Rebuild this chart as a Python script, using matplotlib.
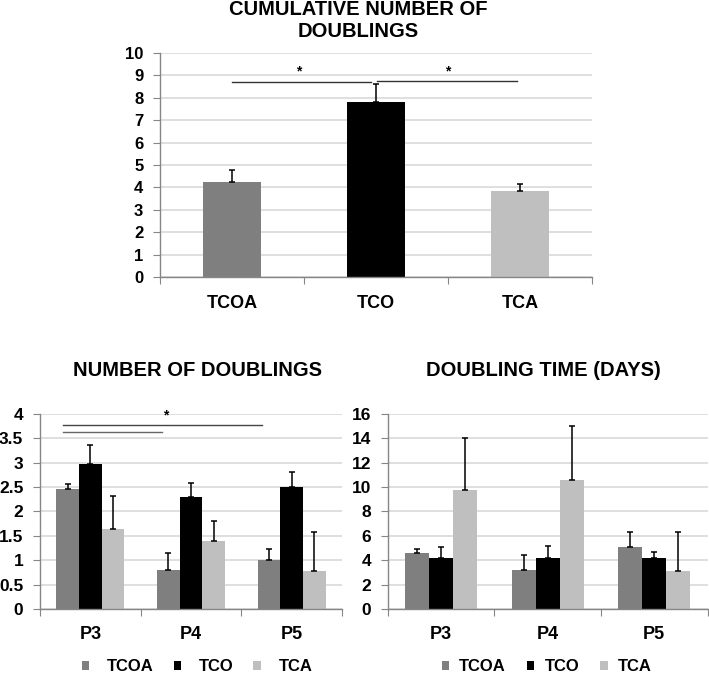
import numpy as np
import matplotlib.pyplot as plt
from matplotlib.patches import Patch

plt.rcParams['font.family'] = ['Liberation Sans', 'DejaVu Sans']
plt.rcParams['font.weight'] = 'bold'

# data
groups = ['TCOA', 'TCO', 'TCA']
colors = ['#7f7f7f', '#000000', '#bfbfbf']

cum_values = [4.22, 7.80, 3.85]
cum_err = [0.55, 0.82, 0.28]

passages = ['P3', 'P4', 'P5']
nd_values = {'TCOA': [2.47, 0.80, 1.00],
             'TCO': [2.97, 2.30, 2.50],
             'TCA': [1.65, 1.40, 0.78]}
nd_err = {'TCOA': [0.10, 0.34, 0.24],
          'TCO': [0.40, 0.28, 0.31],
          'TCA': [0.67, 0.40, 0.80]}

dt_values = {'TCOA': [4.6, 3.2, 5.05],
             'TCO': [4.2, 4.15, 4.2],
             'TCA': [9.8, 10.55, 3.15]}
dt_err = {'TCOA': [0.3, 1.2, 1.3],
          'TCO': [0.85, 1.05, 0.45],
          'TCA': [4.2, 4.45, 3.15]}

GRID = '#d9d9d9'
SPINE = '#868686'


def style_axes(ax, ncat, ymax, ystep, ylabelsize, xlabelsize, xpad):
    ax.set_xlim(-0.5, ncat - 0.5)
    ax.set_ylim(0, ymax)
    ax.set_yticks(np.arange(0, ymax + ystep / 2, ystep))
    ax.yaxis.grid(True, color=GRID, lw=1.2)
    ax.set_axisbelow(True)
    for s in ['top', 'right']:
        ax.spines[s].set_visible(False)
    for s in ['left', 'bottom']:
        ax.spines[s].set_color(SPINE)
        ax.spines[s].set_linewidth(1.0)
    # boundary ticks on x, labels at centers
    ax.set_xticks(np.arange(-0.5, ncat, 1.0))
    ax.set_xticklabels([])
    ax.tick_params(axis='x', which='major', length=5, color=SPINE, direction='out')
    ax.set_xticks(np.arange(ncat), minor=True)
    ax.tick_params(axis='x', which='minor', length=0, pad=xpad, labelsize=xlabelsize)
    ax.tick_params(axis='y', length=5, color=SPINE, pad=7, labelsize=ylabelsize)


def grouped(ax, values, errs, width=0.224):
    offs = [-width, 0, width]
    for g, c, o in zip(groups, colors, offs):
        x = np.arange(len(passages)) + o
        ax.bar(x, values[g], width, color=c, zorder=2)
        ax.errorbar(x, values[g], yerr=[np.zeros(len(passages)), errs[g]],
                    fmt='none', ecolor='black', elinewidth=1.1, capsize=2.2,
                    capthick=1.1, zorder=3)


fig = plt.figure(figsize=(7.09, 6.79), dpi=100)

# ═══ top: cumulative number of doublings ═══
ax1 = fig.add_axes([0.2257, 0.592, 0.609, 0.330])
x = np.arange(len(groups))
ax1.bar(x, cum_values, 0.40, color=colors, zorder=2)
ax1.errorbar(x, cum_values, yerr=[np.zeros(3), cum_err], fmt='none',
             ecolor='black', elinewidth=1.1, capsize=2.2, capthick=1.1, zorder=3)
style_axes(ax1, 3, 10, 1, 12, 13, 13)
ax1.set_xticklabels(groups, minor=True)
ax1.plot([0.0, 0.965], [8.72, 8.72], color='#333333', lw=1, zorder=4)
ax1.plot([1.01, 1.98], [8.74, 8.74], color='#333333', lw=1, zorder=4)
ax1.text(0.465, 8.85, '*', ha='center', va='bottom', fontsize=10)
ax1.text(1.5, 8.85, '*', ha='center', va='bottom', fontsize=10)
fig.text(0.505, 0.9705, 'CUMULATIVE NUMBER OF\nDOUBLINGS', ha='center', va='center',
         fontsize=14.5, linespacing=1.2)

# ═══ bottom left: number of doublings ═══
ax2 = fig.add_axes([0.0564, 0.1031, 0.426, 0.2872])
grouped(ax2, nd_values, nd_err)
style_axes(ax2, 3, 4, 0.5, 12.5, 13, 12)
ax2.set_yticklabels(['0', '0.5', '1', '1.5', '2', '2.5', '3', '3.5', '4'])
ax2.set_xticklabels(passages, minor=True)
ax2.plot([-0.27, 1.71], [3.78, 3.78], color='#444444', lw=1, zorder=4, clip_on=False)
ax2.plot([-0.27, 0.71], [3.64, 3.64], color='#666666', lw=1, zorder=4, clip_on=False)
ax2.text(0.745, 3.83, '*', ha='center', va='bottom', fontsize=10, clip_on=False)
fig.text(0.278, 0.455, 'NUMBER OF DOUBLINGS', ha='center', va='center', fontsize=14.5)

# ═══ bottom right: doubling time ═══
ax3 = fig.add_axes([0.547, 0.1031, 0.451, 0.2872])
grouped(ax3, dt_values, dt_err)
style_axes(ax3, 3, 16, 2, 12.5, 13, 12)
ax3.set_xticklabels(passages, minor=True)
fig.text(0.7666, 0.455, 'DOUBLING TIME (DAYS)', ha='center', va='center', fontsize=14.5)

handles = [Patch(facecolor=c, edgecolor='none') for c in colors]
fig.legend(handles, groups, loc='center', bbox_to_anchor=(0.278, 0.018), ncol=3,
           frameon=False, fontsize=12, handlelength=0.45, handleheight=0.45,
           handletextpad=1.05, columnspacing=1.2)
fig.legend(handles, groups, loc='center', bbox_to_anchor=(0.771, 0.018), ncol=3,
           frameon=False, fontsize=12, handlelength=0.45, handleheight=0.45,
           handletextpad=0.6, columnspacing=1.25)

fig.savefig('out.png', dpi=100)
